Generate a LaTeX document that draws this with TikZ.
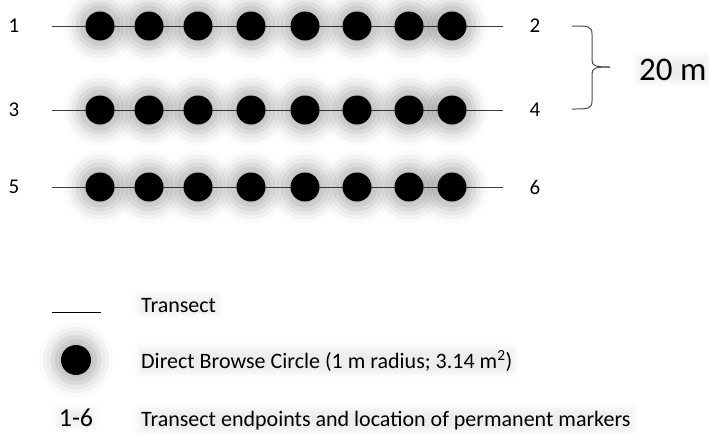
\documentclass[tikz,border=0pt]{standalone}
\usepackage{fontspec}
\setmainfont{Carlito}
\usetikzlibrary{shadows.blur}
\begin{document}
\begin{tikzpicture}[x=1pt,y=-1pt,
  glow/.style={blur shadow={shadow xshift=0pt,shadow yshift=0pt,shadow blur radius=9pt,shadow scale=1.55,shadow opacity=28}},
  tglow/.style={blur shadow={shadow xshift=0pt,shadow yshift=0pt,shadow blur radius=6pt,shadow scale=1.0,shadow opacity=7}},
  dot/.style={circle,fill=black,minimum size=29pt,inner sep=0pt,glow},
  tline/.style={draw=black!75,line width=1pt},
  endnum/.style={font=\fontsize{21}{21}\selectfont,inner sep=1pt},
  legtext/.style={font=\fontsize{22}{22}\selectfont,anchor=base west,inner sep=2pt,tglow},
  bracket/.style={draw=black!70,line width=1pt}]
\useasboundingbox (0,0) rectangle (709,432);
% transect rows
\foreach \r/\y/\a/\b in {1/26/1/2, 2/110/3/4, 3/187/5/6}{
  \coordinate (s\r) at (52,\y);
  \coordinate (e\r) at (503,\y);
  \draw[tline] (s\r) -- (e\r);
  \foreach \i/\x in {1/100,2/149,3/198,4/251,5/305,6/357,7/409,8/452}{
    \node[dot] (c\r-\i) at (\x,\y) {};
  }
  \node[endnum] (n\a) at (14,\y) {\a};
  \node[endnum] (n\b) at (535,\y) {\b};
}
% brace
\coordinate (bt) at (572,26);
\coordinate (bb) at (572,109);
\coordinate (tip) at (610,67);
\draw[bracket] (bt) .. controls (588,26) and (592,26) .. (592,34) -- (592,60)
  .. controls (592,66) and (595,67) .. (tip);
\draw[bracket] (bb) .. controls (588,109) and (592,109) .. (592,101) -- (592,74)
  .. controls (592,68) and (595,67) .. (tip);
\node[font=\fontsize{33}{33}\selectfont,anchor=base west,inner sep=2pt,tglow] (dist) at (637,80) {20 m};
% legend
\coordinate (l1) at (52,312);
\coordinate (l2) at (101,312);
\draw[line width=1pt,black] (l1) -- (l2);
\node[legtext] (lt1) at (139,312) {Transect};
\node[dot,minimum size=30pt] (ldot) at (76,360) {};
\node[legtext] (lt2) at (139,368) {Direct Browse Circle (1 m radius; 3.14 m\textsuperscript{2})};
\node[font=\fontsize{26}{26}\selectfont,anchor=base,inner sep=0pt,tglow] (lnum) at (76,426) {1-6};
\node[legtext] (lt3) at (139,426) {Transect endpoints and location of permanent markers};
\end{tikzpicture}
\end{document}
